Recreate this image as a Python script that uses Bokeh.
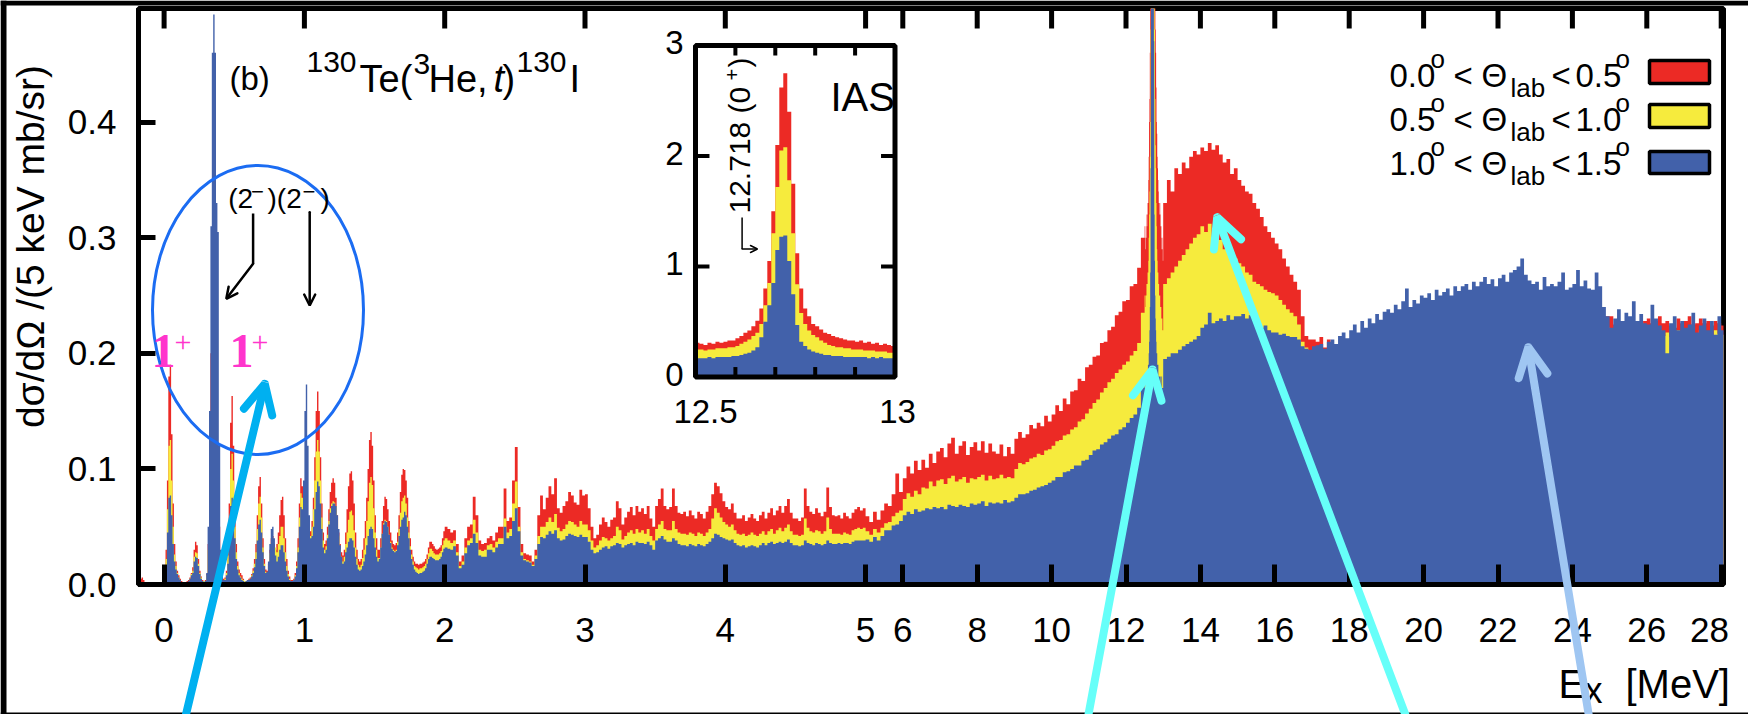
import numpy as np
from bokeh.plotting import figure
from bokeh.models import (Range1d, FixedTicker, PrintfTickFormatter,
                          CustomJSTickFormatter, Label, Arrow, OpenHead)
from bokeh.embed import file_html
from bokeh.resources import INLINE

# ---------------- data (dsigma/dOmega, mb/sr per 5 keV) ----------------
# segment A: Ex = -0.18 .. 2.00 MeV, 0.01 MeV bins
RED_A = [0, 0.005, 0.006, 0.004, 0, 0, 0, 0,
         0, 0, 0, 0, 0, 0, 0, 0, 0, 0.002,
         0.004, 0.03, 0.09, 0.18, 0.19, 0.13, 0.07, 0.035, 0.02, 0.012,
         0.008, 0.005, 0.003, 0.002, 0.002, 0.002, 0.003, 0.004, 0.006, 0.01,
         0.015, 0.03, 0.037, 0.034, 0.022, 0.012, 0.007, 0.004, 0.003, 0.004,
         0.009, 0.035, 0.1, 0.2, 0.26, 0.26, 0.23, 0.16, 0.09, 0.05,
         0.02, 0.008, 0.005, 0.006, 0.012, 0.03, 0.07, 0.14, 0.163, 0.12,
         0.065, 0.035, 0.02, 0.013, 0.01, 0.008, 0.005, 0.003, 0.003, 0.004,
         0.005, 0.006, 0.009, 0.014, 0.022, 0.035, 0.06, 0.085, 0.093, 0.07,
         0.04, 0.022, 0.013, 0.012, 0.018, 0.03, 0.04, 0.042, 0.035, 0.03,
         0.035, 0.045, 0.06, 0.073, 0.076, 0.06, 0.04, 0.022, 0.012, 0.007,
         0.004, 0.004, 0.005, 0.01, 0.02, 0.04, 0.07, 0.092, 0.085, 0.07,
         0.07, 0.065, 0.055, 0.048, 0.046, 0.055, 0.075, 0.11, 0.15, 0.167,
         0.15, 0.11, 0.07, 0.045, 0.035, 0.038, 0.05, 0.065, 0.08, 0.088,
         0.092, 0.088, 0.075, 0.06, 0.045, 0.035, 0.028, 0.025, 0.03, 0.045,
         0.065, 0.085, 0.096, 0.098, 0.09, 0.07, 0.045, 0.03, 0.022, 0.02,
         0.022, 0.03, 0.04, 0.055, 0.075, 0.1, 0.125, 0.132, 0.12, 0.09,
         0.06, 0.04, 0.03, 0.03, 0.04, 0.055, 0.068, 0.076, 0.074, 0.065,
         0.055, 0.045, 0.038, 0.035, 0.034, 0.036, 0.045, 0.06, 0.08, 0.095,
         0.1, 0.099, 0.09, 0.075, 0.055, 0.04, 0.03, 0.024, 0.02, 0.018,
         0.018, 0.017, 0.018, 0.018, 0.019, 0.02, 0.022, 0.026, 0.032, 0.037,
         0.037, 0.035, 0.033, 0.031, 0.03, 0.031, 0.032, 0.034, 0.04, 0.046]
YELLOW_A = [0, 0, 0, 0, 0, 0, 0, 0,
            0, 0, 0, 0, 0, 0, 0, 0, 0, 0.001,
            0.003, 0.022, 0.065, 0.12, 0.125, 0.09, 0.05, 0.026, 0.016, 0.01,
            0.006, 0.004, 0.002, 0.001, 0.001, 0.001, 0.002, 0.003, 0.005, 0.009,
            0.012, 0.024, 0.028, 0.027, 0.018, 0.01, 0.006, 0.003, 0.003, 0.003,
            0.008, 0.03, 0.08, 0.15, 0.2, 0.2, 0.18, 0.12, 0.06, 0.03,
            0.015, 0.006, 0.004, 0.005, 0.01, 0.025, 0.055, 0.1, 0.113, 0.09,
            0.05, 0.028, 0.016, 0.01, 0.007, 0.005, 0.004, 0.003, 0.003, 0.004,
            0.004, 0.005, 0.008, 0.012, 0.018, 0.028, 0.048, 0.07, 0.076, 0.058,
            0.032, 0.018, 0.011, 0.01, 0.016, 0.027, 0.036, 0.038, 0.032, 0.032,
            0.028, 0.035, 0.042, 0.05, 0.05, 0.04, 0.028, 0.016, 0.009, 0.005,
            0.003, 0.003, 0.004, 0.008, 0.016, 0.032, 0.058, 0.079, 0.075, 0.065,
            0.06, 0.058, 0.05, 0.043, 0.042, 0.05, 0.065, 0.09, 0.115, 0.125,
            0.115, 0.09, 0.058, 0.038, 0.03, 0.033, 0.043, 0.055, 0.066, 0.07,
            0.072, 0.071, 0.068, 0.058, 0.042, 0.031, 0.024, 0.02, 0.024, 0.035,
            0.045, 0.056, 0.063, 0.064, 0.06, 0.047, 0.032, 0.022, 0.017, 0.015,
            0.017, 0.023, 0.03, 0.04, 0.055, 0.072, 0.088, 0.093, 0.086, 0.066,
            0.045, 0.03, 0.023, 0.023, 0.032, 0.044, 0.053, 0.056, 0.055, 0.05,
            0.043, 0.037, 0.032, 0.03, 0.029, 0.03, 0.037, 0.048, 0.062, 0.072,
            0.075, 0.077, 0.07, 0.058, 0.045, 0.033, 0.026, 0.02, 0.016, 0.015,
            0.014, 0.013, 0.014, 0.014, 0.015, 0.016, 0.018, 0.022, 0.027, 0.031,
            0.031, 0.029, 0.027, 0.026, 0.026, 0.026, 0.027, 0.029, 0.034, 0.038]
BLUE_A = [0, 0, 0, 0, 0, 0, 0, 0,
          0, 0, 0, 0, 0, 0, 0, 0, 0, 0.001,
          0.002, 0.015, 0.045, 0.075, 0.077, 0.06, 0.035, 0.02, 0.013, 0.009,
          0.006, 0.004, 0.002, 0.001, 0.001, 0.001, 0.002, 0.003, 0.005, 0.008,
          0.01, 0.02, 0.024, 0.023, 0.016, 0.009, 0.005, 0.003, 0.002, 0.003,
          0.01, 0.05, 0.15, 0.31, 0.46, 0.493, 0.46, 0.33, 0.305, 0.12,
          0.03, 0.01, 0.004, 0.004, 0.008, 0.018, 0.04, 0.068, 0.075, 0.062,
          0.04, 0.022, 0.013, 0.008, 0.006, 0.004, 0.003, 0.002, 0.003, 0.004,
          0.004, 0.005, 0.007, 0.01, 0.015, 0.022, 0.038, 0.052, 0.056, 0.045,
          0.028, 0.016, 0.01, 0.011, 0.02, 0.035, 0.048, 0.05, 0.04, 0.025,
          0.02, 0.024, 0.03, 0.034, 0.034, 0.028, 0.02, 0.012, 0.007, 0.004,
          0.003, 0.003, 0.004, 0.007, 0.014, 0.028, 0.05, 0.067, 0.065, 0.09,
          0.15, 0.173, 0.12, 0.06, 0.04, 0.042, 0.05, 0.065, 0.08, 0.089,
          0.085, 0.07, 0.048, 0.032, 0.027, 0.03, 0.04, 0.052, 0.062, 0.068,
          0.07, 0.07, 0.068, 0.06, 0.048, 0.034, 0.024, 0.018, 0.02, 0.028,
          0.032, 0.037, 0.04, 0.04, 0.038, 0.032, 0.024, 0.017, 0.013, 0.012,
          0.013, 0.016, 0.02, 0.026, 0.034, 0.042, 0.048, 0.05, 0.048, 0.04,
          0.032, 0.024, 0.02, 0.022, 0.032, 0.044, 0.052, 0.055, 0.054, 0.05,
          0.043, 0.036, 0.031, 0.029, 0.028, 0.029, 0.034, 0.042, 0.05, 0.056,
          0.058, 0.063, 0.06, 0.05, 0.04, 0.03, 0.022, 0.017, 0.013, 0.011,
          0.01, 0.009, 0.01, 0.01, 0.011, 0.012, 0.014, 0.018, 0.022, 0.024,
          0.024, 0.023, 0.022, 0.021, 0.021, 0.021, 0.022, 0.024, 0.028, 0.031]

# segment B: Ex = 2.00 .. 5.00 MeV, 0.02 MeV bins
RED_B = [0.05, 0.048, 0.045, 0.047, 0.035, 0.02, 0.025, 0.04, 0.05, 0.052,
         0.076, 0.06, 0.038, 0.035, 0.036, 0.04, 0.042, 0.038, 0.045, 0.05,
         0.05, 0.083, 0.055, 0.058, 0.09, 0.119, 0.067, 0.035, 0.027, 0.026,
         0.025, 0.02, 0.03, 0.06, 0.077, 0.065, 0.075, 0.085, 0.078, 0.092,
         0.066, 0.062, 0.068, 0.072, 0.08, 0.077, 0.071, 0.069, 0.082, 0.077,
         0.078, 0.066, 0.05, 0.04, 0.043, 0.052, 0.058, 0.054, 0.05, 0.056,
         0.058, 0.072, 0.066, 0.052, 0.058, 0.063, 0.067, 0.06, 0.068, 0.063,
         0.066, 0.061, 0.068, 0.057, 0.05, 0.068, 0.074, 0.083, 0.068, 0.065,
         0.067, 0.083, 0.068, 0.062, 0.061, 0.063, 0.059, 0.064, 0.06, 0.057,
         0.063, 0.061, 0.057, 0.063, 0.068, 0.078, 0.088, 0.085, 0.079, 0.072,
         0.067, 0.065, 0.07, 0.062, 0.057, 0.057, 0.06, 0.055, 0.058, 0.061,
         0.057, 0.055, 0.06, 0.063, 0.057, 0.062, 0.066, 0.06, 0.064, 0.068,
         0.062, 0.068, 0.074, 0.062, 0.057, 0.057, 0.055, 0.058, 0.083, 0.068,
         0.063, 0.061, 0.066, 0.062, 0.059, 0.063, 0.084, 0.067, 0.06, 0.059,
         0.06, 0.057, 0.062, 0.059, 0.057, 0.062, 0.065, 0.067, 0.064, 0.066]
YELLOW_B = [0.04, 0.038, 0.036, 0.038, 0.028, 0.016, 0.02, 0.032, 0.038, 0.04,
            0.056, 0.045, 0.03, 0.029, 0.03, 0.034, 0.035, 0.032, 0.037, 0.04,
            0.04, 0.057, 0.045, 0.048, 0.07, 0.089, 0.05, 0.028, 0.022, 0.021,
            0.02, 0.017, 0.025, 0.042, 0.05, 0.05, 0.054, 0.058, 0.054, 0.061,
            0.049, 0.046, 0.048, 0.052, 0.055, 0.054, 0.052, 0.05, 0.055, 0.052,
            0.052, 0.047, 0.038, 0.032, 0.034, 0.038, 0.041, 0.04, 0.038, 0.04,
            0.042, 0.05, 0.047, 0.039, 0.042, 0.045, 0.047, 0.044, 0.048, 0.045,
            0.047, 0.044, 0.048, 0.042, 0.038, 0.048, 0.052, 0.055, 0.048, 0.047,
            0.047, 0.055, 0.048, 0.045, 0.044, 0.044, 0.043, 0.045, 0.044, 0.042,
            0.045, 0.044, 0.042, 0.045, 0.048, 0.057, 0.066, 0.062, 0.058, 0.054,
            0.052, 0.05, 0.052, 0.047, 0.044, 0.043, 0.044, 0.042, 0.043, 0.045,
            0.043, 0.042, 0.044, 0.046, 0.043, 0.046, 0.048, 0.044, 0.047, 0.049,
            0.046, 0.049, 0.052, 0.046, 0.043, 0.043, 0.042, 0.043, 0.057, 0.049,
            0.046, 0.045, 0.047, 0.046, 0.044, 0.046, 0.058, 0.048, 0.044, 0.044,
            0.044, 0.043, 0.045, 0.044, 0.043, 0.047, 0.048, 0.049, 0.048, 0.049]
BLUE_B = [0.032, 0.031, 0.03, 0.033, 0.025, 0.014, 0.017, 0.027, 0.034, 0.036,
          0.044, 0.036, 0.025, 0.024, 0.024, 0.03, 0.03, 0.028, 0.032, 0.035,
          0.035, 0.05, 0.04, 0.042, 0.055, 0.066, 0.046, 0.025, 0.021, 0.02,
          0.019, 0.016, 0.022, 0.035, 0.041, 0.04, 0.043, 0.046, 0.044, 0.047,
          0.04, 0.038, 0.039, 0.042, 0.044, 0.043, 0.042, 0.041, 0.043, 0.041,
          0.041, 0.037, 0.03, 0.027, 0.028, 0.03, 0.032, 0.033, 0.031, 0.033,
          0.034, 0.036, 0.035, 0.032, 0.034, 0.035, 0.036, 0.034, 0.037, 0.036,
          0.036, 0.035, 0.037, 0.034, 0.03, 0.038, 0.04, 0.042, 0.039, 0.037,
          0.037, 0.04, 0.038, 0.035, 0.034, 0.034, 0.033, 0.035, 0.034, 0.033,
          0.035, 0.034, 0.033, 0.035, 0.037, 0.04, 0.044, 0.043, 0.041, 0.04,
          0.039, 0.038, 0.039, 0.036, 0.034, 0.033, 0.034, 0.032, 0.033, 0.034,
          0.033, 0.032, 0.034, 0.036, 0.034, 0.036, 0.037, 0.035, 0.036, 0.037,
          0.036, 0.037, 0.039, 0.036, 0.034, 0.034, 0.033, 0.034, 0.038, 0.036,
          0.035, 0.034, 0.036, 0.035, 0.034, 0.035, 0.038, 0.036, 0.035, 0.035,
          0.036, 0.035, 0.036, 0.036, 0.035, 0.037, 0.038, 0.038, 0.038, 0.038]

# segment C: Ex = 5.0 .. 12.5 MeV, 0.1 MeV bins
RED_C = [0.059, 0.054, 0.063, 0.056, 0.064, 0.07, 0.068, 0.078, 0.096, 0.08,
         0.092, 0.102, 0.096, 0.107, 0.099, 0.108, 0.101, 0.113, 0.105, 0.115,
         0.118, 0.11, 0.122, 0.127, 0.113, 0.12, 0.124, 0.112, 0.119, 0.123,
         0.116, 0.124, 0.114, 0.122, 0.115, 0.113, 0.121, 0.111, 0.119, 0.113,
         0.126, 0.132, 0.127, 0.13, 0.138, 0.135, 0.14, 0.137, 0.146, 0.141,
         0.147, 0.155, 0.15, 0.161, 0.156, 0.167, 0.168, 0.178, 0.176, 0.188,
         0.19, 0.197, 0.198, 0.209, 0.21, 0.22, 0.223, 0.233, 0.236, 0.245,
         0.246, 0.258, 0.26, 0.274, 0.3]
YELLOW_C = [0.046, 0.043, 0.048, 0.045, 0.049, 0.053, 0.054, 0.059, 0.062, 0.064,
            0.074, 0.079, 0.076, 0.081, 0.078, 0.084, 0.083, 0.089, 0.085, 0.09,
            0.091, 0.087, 0.092, 0.094, 0.089, 0.091, 0.093, 0.088, 0.092, 0.091,
            0.093, 0.095, 0.09, 0.094, 0.091, 0.092, 0.095, 0.092, 0.093, 0.092,
            0.1, 0.105, 0.104, 0.106, 0.109, 0.11, 0.113, 0.112, 0.116, 0.117,
            0.12, 0.124, 0.125, 0.129, 0.13, 0.134, 0.136, 0.141, 0.143, 0.148,
            0.152, 0.157, 0.16, 0.166, 0.17, 0.175, 0.178, 0.183, 0.186, 0.19,
            0.193, 0.198, 0.202, 0.209, 0.235]
BLUE_C = [0.039, 0.037, 0.041, 0.038, 0.042, 0.047, 0.047, 0.051, 0.052, 0.055,
          0.06, 0.063, 0.061, 0.065, 0.063, 0.064, 0.066, 0.065, 0.067, 0.066,
          0.067, 0.065, 0.069, 0.068, 0.067, 0.069, 0.068, 0.067, 0.07, 0.069,
          0.07, 0.072, 0.068, 0.071, 0.07, 0.071, 0.07, 0.073, 0.071, 0.072,
          0.075, 0.078, 0.078, 0.079, 0.081, 0.082, 0.084, 0.085, 0.086, 0.088,
          0.09, 0.093, 0.093, 0.097, 0.098, 0.1, 0.103, 0.103, 0.107, 0.108,
          0.112, 0.116, 0.117, 0.121, 0.123, 0.126, 0.129, 0.13, 0.134, 0.136,
          0.14, 0.144, 0.147, 0.153, 0.175]

# segment D (IAS, also the inset): Ex = 12.50 .. 13.00 MeV, 0.01 MeV bins
RED_D = [0.31, 0.30, 0.29, 0.31, 0.30, 0.32, 0.31, 0.32, 0.33, 0.33,
         0.35, 0.37, 0.40, 0.42, 0.46, 0.51, 0.62, 0.80, 1.05, 1.50,
         2.10, 2.62, 2.75, 2.40, 1.75, 1.12, 0.80, 0.62, 0.55, 0.48,
         0.46, 0.43, 0.40, 0.39, 0.37, 0.36, 0.35, 0.34, 0.33, 0.33,
         0.32, 0.33, 0.31, 0.32, 0.30, 0.31, 0.29, 0.30, 0.29, 0.28]
YELLOW_D = [0.25, 0.25, 0.24, 0.25, 0.25, 0.26, 0.26, 0.26, 0.27, 0.27,
            0.28, 0.30, 0.32, 0.34, 0.37, 0.40, 0.48, 0.65, 0.85, 1.30,
            1.72, 2.05, 2.08, 1.78, 1.30, 0.84, 0.58, 0.48, 0.42, 0.38,
            0.36, 0.33, 0.31, 0.29, 0.28, 0.27, 0.27, 0.26, 0.26, 0.25,
            0.25, 0.25, 0.24, 0.24, 0.24, 0.23, 0.23, 0.23, 0.22, 0.22]
BLUE_D = [0.17, 0.17, 0.17, 0.18, 0.17, 0.18, 0.18, 0.18, 0.18, 0.19,
          0.19, 0.20, 0.21, 0.22, 0.24, 0.27, 0.36, 0.50, 0.65, 0.85,
          1.15, 1.27, 1.28, 1.05, 0.75, 0.47, 0.32, 0.28, 0.25, 0.23,
          0.22, 0.21, 0.20, 0.20, 0.19, 0.19, 0.19, 0.18, 0.18, 0.18,
          0.18, 0.18, 0.18, 0.17, 0.18, 0.17, 0.18, 0.17, 0.17, 0.17]

# segment E: Ex = 13.0 .. 28.1 MeV, 0.1 MeV bins
RED_E = [0.33, 0.35, 0.34, 0.36, 0.355, 0.365, 0.36, 0.37, 0.375, 0.372,
         0.378, 0.375, 0.382, 0.376, 0.38, 0.372, 0.365, 0.368, 0.355, 0.36,
         0.35, 0.345, 0.34, 0.338, 0.33, 0.325, 0.318, 0.31, 0.305, 0.3,
         0.295, 0.29, 0.282, 0.275, 0.268, 0.262, 0.255, 0.232, 0.215, 0.212,
         0.212, 0.21, 0.214, 0.205, 0.212, 0.205, 0.2, 0.2, 0.21, 0.205,
         0.21, 0.208, 0.212, 0.21, 0.209, 0.21, 0.212, 0.21, 0.211, 0.213,
         0.212, 0.214, 0.213, 0.215, 0.214, 0.216, 0.215, 0.217, 0.216, 0.218,
         0.217, 0.219, 0.218, 0.22, 0.219, 0.22, 0.221, 0.22, 0.222, 0.221,
         0.222, 0.223, 0.222, 0.224, 0.223, 0.224, 0.225, 0.224, 0.226, 0.225,
         0.225, 0.226, 0.225, 0.227, 0.226, 0.226, 0.227, 0.226, 0.227, 0.226,
         0.226, 0.225, 0.227, 0.226, 0.225, 0.226, 0.225, 0.226, 0.225, 0.226,
         0.225, 0.226, 0.225, 0.226, 0.225, 0.226, 0.225, 0.228, 0.23, 0.232,
         0.232, 0.225, 0.228, 0.226, 0.224, 0.226, 0.228, 0.222, 0.225, 0.228,
         0.23, 0.226, 0.228, 0.232, 0.226, 0.228, 0.224, 0.222, 0.23, 0.226,
         0.228, 0.232, 0.225, 0.226, 0.23, 0.226, 0.228, 0.224, 0.228, 0.226,
         0.224]
YELLOW_E = [0.26, 0.265, 0.27, 0.275, 0.28, 0.285, 0.29, 0.295, 0.3, 0.303,
            0.31, 0.305, 0.312, 0.3, 0.306, 0.298, 0.29, 0.292, 0.285, 0.282,
            0.278, 0.275, 0.27, 0.268, 0.262, 0.26, 0.258, 0.255, 0.253, 0.252,
            0.25, 0.246, 0.242, 0.238, 0.235, 0.232, 0.225, 0.21, 0.205, 0.2,
            0.2, 0.198, 0.2, 0.195, 0.2, 0.195, 0.195, 0.2, 0.2, 0.2,
            0.205, 0.204, 0.206, 0.205, 0.207, 0.206, 0.205, 0.207, 0.206, 0.208,
            0.207, 0.208, 0.207, 0.209, 0.208, 0.209, 0.21, 0.209, 0.21, 0.211,
            0.21, 0.211, 0.21, 0.212, 0.211, 0.212, 0.211, 0.213, 0.212, 0.213,
            0.212, 0.213, 0.214, 0.213, 0.214, 0.213, 0.214, 0.215, 0.214, 0.215,
            0.214, 0.215, 0.214, 0.215, 0.216, 0.215, 0.214, 0.215, 0.216, 0.215,
            0.214, 0.215, 0.214, 0.216, 0.215, 0.214, 0.215, 0.214, 0.215, 0.214,
            0.215, 0.214, 0.215, 0.214, 0.215, 0.215, 0.216, 0.218, 0.22, 0.222,
            0.218, 0.216, 0.219, 0.215, 0.217, 0.216, 0.218, 0.214, 0.216, 0.218,
            0.22, 0.216, 0.218, 0.22, 0.215, 0.218, 0.214, 0.216, 0.22, 0.217,
            0.218, 0.22, 0.216, 0.217, 0.22, 0.216, 0.218, 0.215, 0.22, 0.217,
            0.216]
BLUE_E = [0.195, 0.197, 0.2, 0.2, 0.203, 0.206, 0.208, 0.21, 0.212, 0.215,
          0.222, 0.225, 0.235, 0.226, 0.228, 0.23, 0.228, 0.233, 0.229, 0.232,
          0.232, 0.234, 0.23, 0.233, 0.228, 0.226, 0.222, 0.224, 0.22, 0.218,
          0.218, 0.216, 0.217, 0.215, 0.214, 0.214, 0.212, 0.206, 0.204, 0.203,
          0.206, 0.207, 0.208, 0.204, 0.21, 0.212, 0.208, 0.215, 0.218, 0.213,
          0.22, 0.225, 0.218, 0.228, 0.222, 0.23, 0.226, 0.234, 0.229, 0.236,
          0.238, 0.235, 0.242, 0.238, 0.245, 0.256, 0.24, 0.246, 0.243, 0.25,
          0.248, 0.252, 0.246, 0.255, 0.25, 0.253, 0.256, 0.25, 0.258, 0.254,
          0.258, 0.26, 0.255, 0.262, 0.258, 0.262, 0.266, 0.26, 0.264, 0.258,
          0.265, 0.268, 0.262, 0.27, 0.272, 0.275, 0.282, 0.268, 0.263, 0.26,
          0.262, 0.255, 0.266, 0.258, 0.26, 0.258, 0.262, 0.27, 0.255, 0.257,
          0.26, 0.272, 0.258, 0.263, 0.256, 0.255, 0.27, 0.258, 0.24, 0.232,
          0.222, 0.23, 0.238, 0.228, 0.235, 0.232, 0.245, 0.228, 0.234, 0.226,
          0.225, 0.242, 0.23, 0.224, 0.22, 0.2, 0.226, 0.232, 0.22, 0.228,
          0.222, 0.225, 0.235, 0.218, 0.224, 0.23, 0.22, 0.228, 0.216, 0.232,
          0.22]

# histogram binning: (first bin edge [MeV], bin width [MeV])
BINNING = {"A": (-0.18, 0.01), "B": (2.0, 0.02), "C": (5.0, 0.1), "D": (12.5, 0.01), "E": (13.0, 0.1)}
SERIES = {"A": (RED_A, YELLOW_A, BLUE_A), "B": (RED_B, YELLOW_B, BLUE_B),
          "C": (RED_C, YELLOW_C, BLUE_C), "D": (RED_D, YELLOW_D, BLUE_D),
          "E": (RED_E, YELLOW_E, BLUE_E)}

X_TICKS = [0, 1, 2, 3, 4, 5, 6, 8, 10, 12, 14, 16, 18, 20, 22, 24, 26, 28]
Y_TICKS = [0.0, 0.1, 0.2, 0.3, 0.4]
INSET_Y_TICKS = [0, 1, 2, 3]
INSET_X_MINOR = [12.6, 12.7, 12.8, 12.9]
LEGEND = [("0.0", "0.5"), ("0.5", "1.0"), ("1.0", "1.5")]

RED, YEL, BLU = "#ec2a25", "#f6eb3d", "#4261aa"
FONT = "Liberation Sans"
W, H = 1748, 714

# ---------------- scale helpers ----------------
K = 37.2 / 140.3   # compression of the energy axis above 5 MeV


def to_u(E):
    E = np.asarray(E, dtype=float)
    return np.where(E <= 5.0, E, 5.0 + (E - 5.0) * K)


# page pixel -> main data coords (main figure is placed at (6,5) of the page)
def fx(X):
    return (X - 163.6) / 140.3


def fy(Y):
    return (584.0 - Y) / 1156.0


def ix(X):
    return 12.5 + (X - 695.0) / 399.0


def iy(Y):
    return (376.5 - Y) / 110.5


def step_outline(le, ri, v):
    xs = [le[0]]
    ys = [0.0]
    for a, b, c in zip(le, ri, v):
        xs += [a, b]
        ys += [c, c]
    xs.append(ri[-1])
    ys.append(0.0)
    return xs, ys


U0, U1 = fx(138), fx(1723)
Y0, Y1 = 0.0, fy(8)

p = figure(width=1742, height=707, output_backend="svg", toolbar_location=None,
           x_range=Range1d(U0, U1), y_range=Range1d(Y0, Y1), title=None,
           min_border_left=132, min_border_right=25, min_border_top=3, min_border_bottom=128)
p.margin = (5, 0, 2, 6)
p.background_fill_color = "white"
p.border_fill_color = "white"
p.outline_line_color = "black"
p.outline_line_width = 5
p.xgrid.visible = False
p.ygrid.visible = False
p.extra_x_ranges = {"ix": Range1d(ix(138), ix(1723))}
p.extra_y_ranges = {"iy": Range1d(iy(584), iy(8))}

# ---------------- main histograms (overlaid: red, then yellow, then blue) ----------------
lefts, rights, vals = [], [], [[], [], []]
for key in ["A", "B", "C", "D", "E"]:
    start, w = BINNING[key]
    n = len(SERIES[key][0])
    le = start + w * np.arange(n)
    lefts.append(le)
    rights.append(le + w)
    for k in range(3):
        vals[k].append(SERIES[key][k])
L = to_u(np.concatenate(lefts))
R = to_u(np.concatenate(rights))
for k, c in enumerate([RED, YEL, BLU]):
    xs, ys = step_outline(L, R, np.concatenate(vals[k]))
    p.patch(xs, ys, fill_color=c, line_color=None)

# top ticks
tu = to_u(X_TICKS)
p.segment(x0=tu, y0=[Y1] * len(tu), x1=tu, y1=[Y1 - 20 / 1156] * len(tu),
          line_color="black", line_width=5)

# axes
p.xaxis.ticker = FixedTicker(ticks=list(tu))
p.xaxis.formatter = CustomJSTickFormatter(code="""
const K = %f;
const e = tick <= 5.0001 ? tick : 5 + (tick - 5) / K;
const s = Math.round(e).toString();
return s == "28" ? s + "\\u00a0\\u00a0" : s;
""" % K)
p.yaxis.ticker = FixedTicker(ticks=Y_TICKS)
p.yaxis.formatter = PrintfTickFormatter(format="%.1f")
for ax in (p.xaxis[0], p.yaxis[0]):
    ax.axis_line_width = 5
    ax.major_tick_line_width = 5
    ax.major_tick_out = 0
    ax.minor_tick_line_color = None
    ax.major_label_text_font = FONT
    ax.major_label_text_font_size = "35px"
    ax.major_label_text_color = "black"
p.xaxis.major_tick_in = 20
p.xaxis.major_label_standoff = 25
p.yaxis.major_tick_in = 17
p.yaxis.major_label_standoff = 22

# ellipse around the low-lying states
p.ellipse(x=[fx(257.5)], y=[fy(309.5)], width=[211 / 140.3], height=[289 / 1156],
          fill_color=None, line_color="#1b6cf2", line_width=3)

# legend swatches
boxes = [(60, 83), (104, 127), (151, 173)]
for (top_px, bot_px), c in zip(boxes, [RED, YEL, BLU]):
    p.quad(left=[fx(1649)], right=[fx(1709)], top=[fy(top_px)], bottom=[fy(bot_px)],
           fill_color=c, line_color="black", line_width=3.5)

# ---------------- inset (IAS) ----------------
RN = dict(x_range_name="ix", y_range_name="iy")
p.quad(left=[12.5], right=[13.0], bottom=[0], top=[3], fill_color="white", line_color=None, **RN)
start, w = BINNING["D"]
le = start + w * np.arange(len(RED_D))
for v, c in [(RED_D, RED), (YELLOW_D, YEL), (BLUE_D, BLU)]:
    xs, ys = step_outline(le, le + w, v)
    p.patch(xs, ys, fill_color=c, line_color=None, **RN)
tx = INSET_X_MINOR
p.segment(x0=tx, y0=[0] * 4, x1=tx, y1=[0.09] * 4, line_color="black", line_width=4, **RN)
p.segment(x0=tx, y0=[3] * 4, x1=tx, y1=[2.91] * 4, line_color="black", line_width=4, **RN)
p.segment(x0=[12.5, 12.5], y0=[1, 2], x1=[12.535, 12.535], y1=[1, 2], line_color="black", line_width=4, **RN)
p.segment(x0=[13.0, 13.0], y0=[1, 2], x1=[12.965, 12.965], y1=[1, 2], line_color="black", line_width=4, **RN)
p.quad(left=[12.5], right=[13.0], bottom=[0], top=[3], fill_color=None, line_color="black",
       line_width=5, **RN)

# ---------------- overlay (page pixel coordinates) for texts and arrows ----------------
q = figure(width=W, height=H, output_backend="svg", toolbar_location=None,
           x_range=Range1d(0, W), y_range=Range1d(0, H), x_axis_type=None, y_axis_type=None,
           min_border=0, title=None)
q.outline_line_color = None
q.background_fill_color = None
q.border_fill_color = None
q.styles = {"position": "absolute", "left": "0px", "top": "0px", "pointer-events": "none"}

# renderer places text lower than the requested baseline by about this fraction of the size
SHIFT = {"alphabetic": 0.35, "middle": 0.12}


def lab(X, Y, text, size, font=FONT, color="black", align="left",
        baseline="alphabetic", angle=0.0, style="normal"):
    s = SHIFT.get(baseline, 0.0) * size
    if angle == 0.0:
        Y = Y - s
    else:
        X = X - s
    q.add_layout(Label(x=X, y=H - Y, text=text, text_font=font,
                       text_font_size=f"{size}px", text_color=color, text_align=align,
                       text_baseline=baseline, angle=angle, text_font_style=style))


def arrow(X0, Y0, X1, Y1, color, width, size):
    q.add_layout(Arrow(end=OpenHead(size=size, line_width=width, line_color=color, line_cap="round"),
                       x_start=X0, y_start=H - Y0, x_end=X1, y_end=H - Y1,
                       line_color=color, line_width=width, line_cap="round"))


# black page border (top, left, bottom)
q.quad(left=[0, 0, 0], right=[W, 6, W], bottom=[H - 5, 0, 0], top=[H, H, 2],
       fill_color="black", line_color=None)

# axis titles
lab(44, 246, "dσ/dΩ /(5 keV mb/sr)", 39, align="center", angle=np.pi / 2)
lab(1558, 697, "E", 40)
lab(1584, 703, "x", 36)
lab(1625, 697, "[MeV]", 40)

# panel label and reaction
lab(229, 90, "(b)", 33)
lab(306, 71.7, "130", 30)
lab(359, 91.7, "Te(", 38)
lab(413, 74, "3", 30)
lab(428, 91.7, "He,", 38)
lab(493, 91.7, "t", 38, style="italic")
lab(502, 91.7, ")", 38)
lab(516, 71.7, "130", 30)
lab(569, 91.7, "I", 38)

# (2-)(2-) labels and arrows
lab(227.7, 208, "(2", 28)
lab(250.5, 199, "−", 22)
lab(267, 208, ")(2", 28)
lab(302, 199, "−", 22)
lab(320, 208, ")", 28)
q.line(x=[252.6, 252.6], y=[H - 213, H - 263.3], line_color="black", line_width=2.5)
arrow(252.6, 263.3, 225.8, 298.3, "black", 2.5, 11)
arrow(309.2, 211.7, 309.2, 305, "black", 2.5, 11)

# 1+ labels
MAG = "#ff35cc"
lab(151, 367, "1", 48, font="Liberation Serif", color=MAG, style="bold")
lab(174, 352, "+", 30, font="Liberation Serif", color=MAG)
lab(229, 367, "1", 48, font="Liberation Serif", color=MAG, style="bold")
lab(251, 352, "+", 30, font="Liberation Serif", color=MAG)

# legend texts
for (lo, hi), base in zip(LEGEND, [87, 131, 175]):
    lab(1389, base, lo, 33)
    lab(1430, base - 19, "o", 26)
    lab(1453, base, "<", 33)
    lab(1481, base, "Θ", 33)
    lab(1510, base + 10, "lab", 26)
    lab(1551, base, "<", 33)
    lab(1575, base, hi, 33)
    lab(1615, base - 19, "o", 26)

# inset texts
for v, ypx in zip(INSET_Y_TICKS, [376.5, 266, 155.5, 45]):
    lab(683, ypx + 1, str(v), 33, align="right", baseline="middle")
lab(705, 415, "12.5", 33, align="center", baseline="middle")
lab(897, 415, "13", 33, align="center", baseline="middle")
lab(830, 110, "IAS", 40)
lab(749, 213, "12.718 (0", 30, angle=np.pi / 2)
lab(738, 80, "+", 20, angle=np.pi / 2)
lab(749, 67, ")", 30, angle=np.pi / 2)
q.line(x=[741.6, 741.6], y=[H - 217, H - 248.5], line_color="black", line_width=1.5)
arrow(741.6, 248.5, 757, 248.5, "black", 1.5, 7)

# coloured annotation arrows
for (x0, y0, x1, y1, c) in [(185, 716, 264.3, 383.3, "#00b0f0"),
                            (1087.6, 716, 1152, 369, "#66fff9"),
                            (1405.6, 716, 1216.7, 216.7, "#66fff9"),
                            (1588.5, 716, 1527.8, 346.7, "#9fc6f2")]:
    arrow(x0, y0, x1, y1, c, 8, 29)

html = file_html([p, q], INLINE, title="130Te(3He,t)130I")
html = html.replace("<head>", "<head><style>html,body{margin:0;padding:0;background:#fff;overflow:hidden;}</style>", 1)
open("out.html", "w").write(html)
